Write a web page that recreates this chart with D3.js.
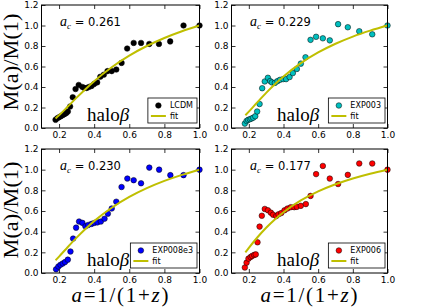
<!DOCTYPE html>
<html>
<head>
<meta charset="utf-8">
<script src="https://cdn.jsdelivr.net/npm/d3@7"></script>
<style>
  body { margin: 0; background: #fff; }
  svg { display: block; }
</style>
</head>
<body>
<svg width="432" height="307"></svg>
<script>
// tick labels
const xTicks = [0.2, 0.4, 0.6, 0.8, 1.0];
const yTicks = [0.0, 0.2, 0.4, 0.6, 0.8, 1.0, 1.2];

// one entry per panel
const runNames = ["LCDM", "EXP003", "EXP008e3", "EXP006"];
const acValues = ["0.261", "0.229", "0.230", "0.177"];
const runColors = ["#000000", "#00bfbf", "#0000ff", "#ff0000"];

// scale factor a of each snapshot
const lcdmA = [0.180, 0.190, 0.200, 0.210, 0.220, 0.230, 0.240, 0.250, 0.263, 0.278, 0.294, 0.312, 0.333, 0.345, 0.357, 0.370, 0.385, 0.400, 0.417, 0.435, 0.455, 0.476, 0.500, 0.526, 0.556, 0.588, 0.625, 0.667, 0.714, 0.769, 0.833, 0.909, 1.000];
const lcdmM = [0.080, 0.095, 0.105, 0.115, 0.125, 0.135, 0.145, 0.160, 0.210, 0.300, 0.380, 0.420, 0.400, 0.390, 0.390, 0.400, 0.410, 0.430, 0.445, 0.500, 0.520, 0.555, 0.555, 0.570, 0.635, 0.775, 0.830, 0.830, 0.820, 0.820, 0.845, 1.000, 1.000];

const exp003A = [0.177, 0.187, 0.196, 0.206, 0.215, 0.225, 0.237, 0.248, 0.262, 0.277, 0.292, 0.310, 0.323, 0.333, 0.350, 0.365, 0.380, 0.398, 0.415, 0.435, 0.454, 0.477, 0.500, 0.527, 0.556, 0.588, 0.627, 0.667, 0.715, 0.771, 0.837, 0.912, 1.000];
const exp003M = [0.043, 0.069, 0.079, 0.086, 0.092, 0.100, 0.115, 0.161, 0.234, 0.388, 0.454, 0.490, 0.458, 0.445, 0.440, 0.457, 0.470, 0.477, 0.477, 0.497, 0.536, 0.576, 0.628, 0.690, 0.860, 0.890, 0.875, 0.855, 1.013, 0.983, 0.944, 0.914, 1.000];

const exp008A = [0.183, 0.196, 0.208, 0.221, 0.234, 0.250, 0.265, 0.280, 0.297, 0.314, 0.333, 0.350, 0.366, 0.385, 0.402, 0.419, 0.438, 0.459, 0.478, 0.500, 0.526, 0.556, 0.589, 0.625, 0.667, 0.714, 0.770, 0.834, 0.909, 1.000];
const exp008M = [0.036, 0.063, 0.079, 0.092, 0.106, 0.129, 0.208, 0.333, 0.439, 0.498, 0.485, 0.452, 0.465, 0.475, 0.485, 0.490, 0.498, 0.525, 0.574, 0.624, 0.690, 0.832, 0.914, 0.898, 0.868, 1.020, 1.000, 0.947, 0.947, 1.000];

const exp006A = [0.177, 0.187, 0.198, 0.210, 0.219, 0.231, 0.240, 0.250, 0.262, 0.275, 0.292, 0.310, 0.327, 0.340, 0.358, 0.371, 0.387, 0.406, 0.423, 0.442, 0.462, 0.477, 0.500, 0.529, 0.556, 0.588, 0.627, 0.667, 0.715, 0.771, 0.837, 0.912, 1.000];
const exp006M = [0.053, 0.100, 0.139, 0.155, 0.165, 0.175, 0.180, 0.297, 0.449, 0.554, 0.620, 0.607, 0.584, 0.564, 0.551, 0.568, 0.580, 0.607, 0.624, 0.637, 0.637, 0.640, 0.650, 0.667, 0.746, 0.957, 1.036, 0.914, 0.861, 0.950, 1.060, 1.060, 1.000];

// fit curves, sampled along a
const fitA = [0.18, 0.20, 0.25, 0.30, 0.35, 0.40, 0.50, 0.60, 0.70, 0.80, 0.90, 1.00];
const fitLcdm = [0.093, 0.124, 0.209, 0.296, 0.379, 0.457, 0.593, 0.706, 0.800, 0.878, 0.944, 1.000];
const fitExp003 = [0.124, 0.160, 0.253, 0.343, 0.427, 0.503, 0.633, 0.737, 0.822, 0.892, 0.950, 1.000];
const fitExp008 = [0.123, 0.159, 0.252, 0.342, 0.426, 0.502, 0.631, 0.736, 0.821, 0.891, 0.950, 1.000];
const fitExp006 = [0.199, 0.243, 0.346, 0.438, 0.518, 0.588, 0.702, 0.790, 0.859, 0.915, 0.961, 1.000];

const SANS = "'DejaVu Sans', sans-serif";
const SERIF = "'Liberation Serif', serif";

const svg = d3.select("svg");

// panel frames in page pixels
const frames = [
  {x0: 41.5, x1: 199.5, y0: 5, y1: 128},
  {x0: 231.5, x1: 387.5, y0: 5, y1: 128},
  {x0: 41.5, x1: 199.5, y0: 149, y1: 273},
  {x0: 231.5, x1: 387.5, y0: 149, y1: 273}
];

const pointSets = [[lcdmA, lcdmM], [exp003A, exp003M], [exp008A, exp008M], [exp006A, exp006M]];
const fits = [fitLcdm, fitExp003, fitExp008, fitExp006];

frames.forEach((f, i) => {
  const x = d3.scaleLinear().domain([0.1, 1.0]).range([f.x0, f.x1]);
  const y = d3.scaleLinear().domain([0, 1.2]).range([f.y1, f.y0]);
  const g = svg.append("g");

  // ticks pointing inwards on all four sides
  const fmt = d3.format(".1f");
  g.append("g").attr("transform", `translate(0,${f.y1})`)
    .call(d3.axisBottom(x).tickValues(xTicks).tickSize(-4).tickPadding(4).tickFormat(fmt));
  g.append("g").attr("transform", `translate(0,${f.y0})`)
    .call(d3.axisTop(x).tickValues(xTicks).tickSize(-4).tickFormat(""));
  g.append("g").attr("transform", `translate(${f.x0},0)`)
    .call(d3.axisLeft(y).tickValues(yTicks).tickSize(-4).tickPadding(3).tickFormat(fmt));
  g.append("g").attr("transform", `translate(${f.x1},0)`)
    .call(d3.axisRight(y).tickValues(yTicks).tickSize(-4).tickFormat(""));
  g.selectAll(".domain").remove();
  g.selectAll(".tick line").attr("stroke", "#000").attr("stroke-width", 0.8);
  g.selectAll(".tick text").attr("fill", "#000")
    .style("font-size", "9px").style("font-family", SANS);

  // scatter points
  const [as, ms] = pointSets[i];
  g.selectAll("circle.pt")
    .data(as.map((a, k) => ({a: a, m: ms[k]})))
    .enter().append("circle")
      .attr("class", "pt")
      .attr("cx", d => x(d.a))
      .attr("cy", d => y(d.m))
      .attr("r", 2.8)
      .attr("fill", runColors[i])
      .attr("stroke", "#000")
      .attr("stroke-width", 0.5);

  // fit line
  const line = d3.line().x(d => x(d[0])).y(d => y(d[1])).curve(d3.curveMonotoneX);
  g.append("path")
    .datum(fitA.map((a, k) => [a, fits[i][k]]))
    .attr("d", line)
    .attr("fill", "none")
    .attr("stroke", "#bfbf00")
    .attr("stroke-width", 2);

  // frame
  g.append("rect")
    .attr("x", f.x0).attr("y", f.y0)
    .attr("width", f.x1 - f.x0).attr("height", f.y1 - f.y0)
    .attr("fill", "none").attr("stroke", "#000").attr("stroke-width", 1);

  // a_c label
  const ac = g.append("text").attr("x", f.x0 + 18.5).attr("y", f.y0 + 20.5);
  ac.append("tspan").text("a").style("font-family", SERIF)
    .style("font-style", "italic").style("font-size", "14px");
  ac.append("tspan").text("c").style("font-family", SERIF)
    .style("font-style", "italic").style("font-size", "9px").attr("dy", 3);
  ac.append("tspan").text(" = " + acValues[i]).style("font-family", SANS)
    .style("font-size", "11.5px").attr("dy", -3);

  // halo beta
  const halo = g.append("text").attr("x", f.x0 + 45.5).attr("y", f.y1 - 7.5)
    .style("font-family", SERIF).style("font-size", "19px");
  halo.append("tspan").text("halo");
  halo.append("tspan").text("β").style("font-style", "italic");

  // legend
  const leg = g.append("g");
  const box = leg.append("rect").attr("fill", "#fff").attr("stroke", "#000").attr("stroke-width", 0.8);
  const t1 = leg.append("text").text(runNames[i]).style("font-size", "8px").style("font-family", SANS);
  const w = 22 + t1.node().getComputedTextLength() + 4;
  const lx = f.x1 - 2.5 - w;
  const ly = f.y1 - 5 - 25;
  box.attr("x", lx).attr("y", ly).attr("width", w).attr("height", 25);
  t1.attr("x", lx + 22).attr("y", ly + 10);
  leg.append("circle").attr("cx", lx + 10.5).attr("cy", ly + 7.5).attr("r", 2.8)
    .attr("fill", runColors[i]).attr("stroke", "#000").attr("stroke-width", 0.5);
  leg.append("line").attr("x1", lx + 3).attr("x2", lx + 18).attr("y1", ly + 18).attr("y2", ly + 18)
    .attr("stroke", "#bfbf00").attr("stroke-width", 2);
  leg.append("text").text("fit").style("font-size", "8px").style("font-family", SANS)
    .attr("x", lx + 22).attr("y", ly + 21);
});

// y axis titles
[62, 210].forEach(cy => {
  svg.append("text")
    .attr("transform", `translate(18,${cy}) rotate(-90)`)
    .attr("text-anchor", "middle")
    .style("font-family", SERIF)
    .style("font-size", "20px")
    .attr("textLength", 97).attr("lengthAdjust", "spacingAndGlyphs")
    .text("M(a)/M(1)");
});

// x axis titles
[120, 309].forEach(cx => {
  const t = svg.append("text")
    .attr("x", cx).attr("y", 302)
    .attr("text-anchor", "middle")
    .style("font-family", SERIF)
    .style("font-size", "21px")
    .attr("textLength", 97).attr("lengthAdjust", "spacing");
  t.append("tspan").text("a").style("font-style", "italic");
  t.append("tspan").text("=1/(1+");
  t.append("tspan").text("z").style("font-style", "italic");
  t.append("tspan").text(")");
});
</script>
</body>
</html>
